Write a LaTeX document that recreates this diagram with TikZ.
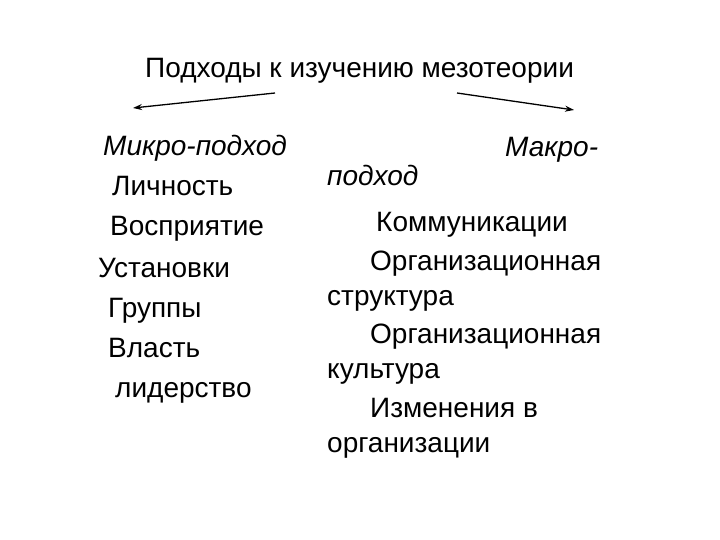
\documentclass[tikz,border=0pt]{standalone}
\usepackage{fontspec}
\setmainfont{Liberation Sans}
\usetikzlibrary{arrows.meta}

\tikzset{item/.style = {anchor=base west, inner sep=0pt, font=\fontsize{28}{34}\selectfont}}

\begin{document}
\begin{tikzpicture}[x=1pt, y=-1pt]
            % Define node styles
            \tikzstyle{head} = [item, font=\fontsize{28}{34}\selectfont\itshape]
            \tikzstyle{link} = [-{Stealth[length=9pt, width=6pt]}, line width=1.3pt]

            \useasboundingbox (0,0) rectangle (720,540);

            % Title
            \node[item] (title) at (145,78) {Подходы к изучению мезотеории};

            % Left column (micro approach)
            \node[head] (micro) at (103,156) {Микро-подход};
            \node[item] (l1) at (112,196) {Личность};
            \node[item] (l2) at (110,236) {Восприятие};
            \node[item] (l3) at (98,277) {Установки};
            \node[item] (l4) at (108,317) {Группы};
            \node[item] (l5) at (108,357) {Власть};
            \node[item] (l6) at (115,397) {лидерство};

            % Right column (macro approach)
            \node[head] (macro) at (505,157) {Макро-};
            \node[head] (macro2) at (327,186) {подход};
            \node[item] (r1) at (376,231) {Коммуникации};
            \node[item] (r2) at (370,270) {Организационная};
            \node[item] (r2b) at (327,305) {структура};
            \node[item] (r3) at (370,343) {Организационная};
            \node[item] (r3b) at (327,378) {культура};
            \node[item] (r4) at (370,417) {Изменения в};
            \node[item] (r4b) at (327,452) {организации};

            % Arrows from the title
            \coordinate (la) at (275,93);
            \coordinate (lb) at (133,108);
            \coordinate (ra) at (457,93);
            \coordinate (rb) at (574,110);
            \draw[link] (la) -- (lb);
            \draw[link] (ra) -- (rb);

        \end{tikzpicture}
\end{document}
